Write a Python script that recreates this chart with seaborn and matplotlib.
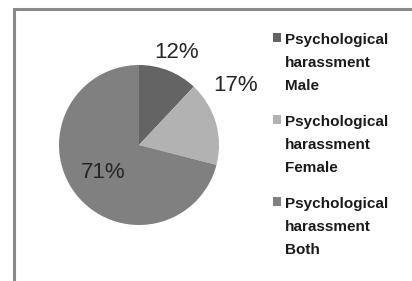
import matplotlib
matplotlib.use('Agg')
import matplotlib.pyplot as plt
import seaborn as sns
from matplotlib.patches import Rectangle

sns.set_style('white')
plt.rcParams['font.family'] = ['Liberation Sans', 'DejaVu Sans']

# data
categories = ['Psychological\nharassment\nMale',
              'Psychological\nharassment\nFemale',
              'Psychological\nharassment\nBoth']
shares = [12, 17, 71]
pct_labels = ['12%', '17%', '71%']
colors = ['#646464', '#b2b2b2', '#808080']

# where Excel put the percentage labels (pie radius units)
label_pos = [(0.47, 1.16), (1.21, 0.74), (-0.45, -0.34)]

W, H = 412, 281
fig = plt.figure(figsize=(W / 100, H / 100), dpi=100)

# chart-area frame, cropped at right and bottom
fig.patches.append(Rectangle((14 / W, -0.1), 1.2, 1.1 - 8.5 / H,
                             transform=fig.transFigure, fill=False,
                             edgecolor='#8a8a8a', linewidth=2.2))

cx, cy, r = 139, 145, 80
ax = fig.add_axes([(cx - r) / W, (H - cy - r) / H, 2 * r / W, 2 * r / H])
wedges, _ = ax.pie(shares, colors=colors, startangle=90, counterclock=False,
                   wedgeprops=dict(linewidth=0))
ax.set_xlim(-1, 1)
ax.set_ylim(-1, 1)
ax.set_aspect('equal')

for (x, y), txt in zip(label_pos, pct_labels):
    ax.text(x, y, txt, ha='center', va='center', fontsize=16, color='#262626')

leg = fig.legend(wedges, categories, loc='upper left',
                 bbox_to_anchor=(273 / W, 1 - 33 / H),
                 frameon=False, borderpad=0, borderaxespad=0,
                 handlelength=0.52, handleheight=0.52, handletextpad=0.28,
                 labelspacing=1.4,
                 prop=dict(size=11, weight='bold'))
for t in leg.get_texts():
    t.set_linespacing(1.84)
    t.set_color('#1a1a1a')
for col in leg._legend_handle_box.get_children():
    for row in col.get_children():
        row.align = 'top'

fig.savefig('out.png', dpi=100)
